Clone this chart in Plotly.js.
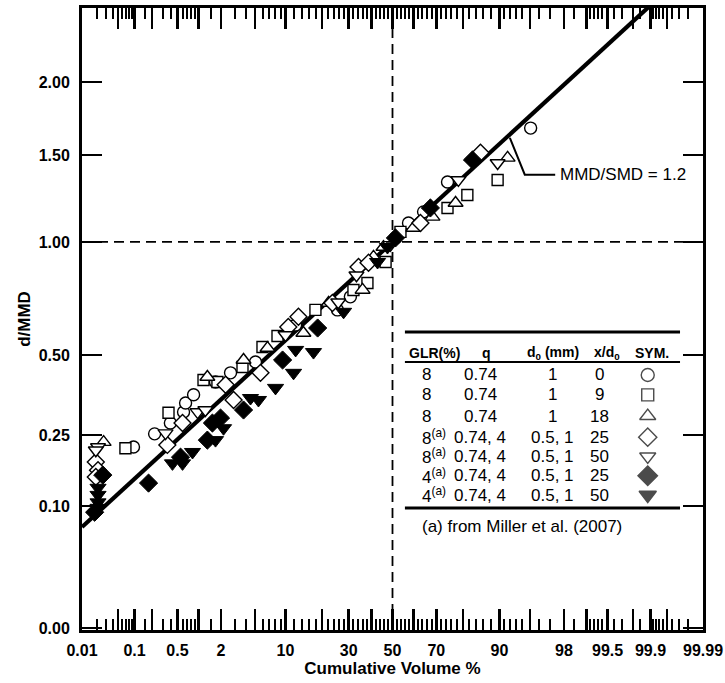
<!DOCTYPE html>
<html><head><meta charset="utf-8">
<script src="https://cdn.plot.ly/plotly-3.0.1.min.js"></script>
<style>body{margin:0;background:#fff}</style>
</head><body><div id="chart" style="width:725px;height:683px"></div>
<script>
// ---------- data (cumulative volume %, d/MMD) ----------
const circleCum = [0.096,0.219,0.39,0.616,0.66,0.86,1.70,2.62,5.04,12.3,25.5,30.7,51.4,57.6,64.5,74.5,95.1];
const circleD   = [0.220,0.253,0.282,0.313,0.340,0.365,0.406,0.437,0.475,0.616,0.679,0.736,1.021,1.101,1.162,1.335,1.677];

const squareCum = [0.069,0.365,1.18,1.80,3.62,5.97,8.42,17.8,32.0,38.2,46.7,53.8,74.5,81.5,89.6];
const squareD   = [0.217,0.311,0.413,0.406,0.457,0.530,0.572,0.679,0.767,0.799,0.899,1.053,1.184,1.258,1.347];

const triUpCum = [0.027,1.33,3.72,6.72,14.3,22.2,36.0,41.0,45.7,59.9,68.4,77.5,91.6];
const triUpD   = [0.232,0.423,0.482,0.526,0.584,0.709,0.767,0.924,0.974,1.074,1.134,1.212,1.483];

const diamondCum = [0.019,0.021,0.019,0.35,0.595,2.28,2.85,5.69,10.6,13.0,23.6,34.2,38.7,63.1,85.4];
const diamondD   = [0.185,0.167,0.153,0.225,0.282,0.397,0.349,0.437,0.608,0.650,0.709,0.875,0.895,1.101,1.516];

const triDownCum = [0.021,0.019,0.328,0.98,1.25,10.0,25.8,33.3,49.0,78.5,89.6];
const triDownD   = [0.220,0.212,0.255,0.313,0.319,0.576,0.712,0.835,0.985,1.347,1.451];

const fDiamondCum = [0.026,0.018,0.174,0.556,1.33,1.55,1.97,3.72,9.40,18.5,51.4,67.5,83.1];
const fDiamondD   = [0.157,0.090,0.141,0.196,0.237,0.282,0.296,0.319,0.482,0.604,1.021,1.184,1.470];

const fTriDownCum = [0.021,0.021,0.021,0.021,0.42,0.595,0.83,1.70,2.15,4.45,5.42,8.06,11.8,12.3,17.2,27.9,42.9,47.6];
const fTriDownD   = [0.132,0.119,0.106,0.097,0.182,0.182,0.208,0.237,0.268,0.355,0.349,0.387,0.437,0.519,0.511,0.671,0.899,0.974];

// root-normal fit, MMD/SMD = 1.2
const fitCum = [0.01, 99.99];
const fitD   = [0.0685, 3.02];
const fitLabel = 'MMD/SMD = 1.2';

// axis ticks
const xMajorCum = [0.01,0.05,0.1,0.2,0.5,1,2,5,10,20,30,40,50,60,70,80,90,95,98,99,99.5,99.8,99.9,99.95,99.99];
const xMajorLabels = ['0.01','','0.1','','0.5','','2','','10','','30','','50','','70','','90','','98','','99.5','','99.9','','99.99'];
const xMinorCum = [0.02,0.03,0.04,0.06,0.07,0.08,0.09,0.15,0.3,0.4,0.6,0.7,0.8,0.9,1.5,3,4,6,7,8,9,
  12,14,16,18,22,24,26,28,32,34,36,38,42,44,46,48,52,54,56,58,62,64,66,68,72,74,76,78,82,84,86,88,
  91,92,93,94,96,97,98.5,99.1,99.2,99.3,99.4,99.6,99.7,99.85,99.91,99.92,99.93,99.94,99.96,99.97,99.98];
const yTickValues = [0,0.1,0.25,0.5,1,1.5,2];
const yTickLabels = ['0.00','0.10','0.25','0.50','1.00','1.50','2.00'];
const refCum = 50, refD = 1;

// legend table
const tblGLR = ['8','8','8','8<sup>(a)</sup>','8<sup>(a)</sup>','4<sup>(a)</sup>','4<sup>(a)</sup>'];
const tblQ   = ['0.74','0.74','0.74','0.74, 4','0.74, 4','0.74, 4','0.74, 4'];
const tblD0  = ['1','1','1','0.5, 1','0.5, 1','0.5, 1','0.5, 1'];
const tblXD  = ['0','9','18','25','50','25','50'];
const tblHeader = ['GLR(%)','q','d<sub>0</sub> (mm)','x/d<sub>0</sub>','SYM.'];
const footnote = '(a) from Miller et al. (2007)';

// ---------- scales ----------
function probit(p){
  const a=[-3.969683028665376e+01,2.209460984245205e+02,-2.759285104469687e+02,1.383577518672690e+02,-3.066479806614716e+01,2.506628277459239e+00];
  const b=[-5.447609879822406e+01,1.615858368580409e+02,-1.556989798598866e+02,6.680131188771972e+01,-1.328068155288572e+01];
  const c=[-7.784894002430293e-03,-3.223964580411365e-01,-2.400758277161838e+00,-2.549732539343734e+00,4.374664141464968e+00,2.938163982698783e+00];
  const d=[7.784695709041462e-03,3.224671290700398e-01,2.445134137142996e+00,3.754408661907416e+00];
  const pl=0.02425, ph=1-pl; let q,r;
  if(p<pl){q=Math.sqrt(-2*Math.log(p));return (((((c[0]*q+c[1])*q+c[2])*q+c[3])*q+c[4])*q+c[5])/((((d[0]*q+d[1])*q+d[2])*q+d[3])*q+1);}
  if(p<=ph){q=p-0.5;r=q*q;return (((((a[0]*r+a[1])*r+a[2])*r+a[3])*r+a[4])*r+a[5])*q/(((((b[0]*r+b[1])*r+b[2])*r+b[3])*r+b[4])*r+1);}
  q=Math.sqrt(-2*Math.log(1-p));return -(((((c[0]*q+c[1])*q+c[2])*q+c[3])*q+c[4])*q+c[5])/((((d[0]*q+d[1])*q+d[2])*q+d[3])*q+1);
}
const X = v => probit(v/100);
const Y = v => Math.sqrt(v);

// ---------- traces ----------
const OPEN = {color:'white', line:{color:'black', width:1.4}};
function series(cum, dv, symbol, size, filled){
  return {x:cum.map(X), y:dv.map(Y), type:'scatter', mode:'markers', cliponaxis:true, hoverinfo:'skip',
    marker: filled ? {symbol, size, color:'black', line:{color:'black',width:1}}
                   : Object.assign({symbol, size}, OPEN)};
}
const traces = [
  {x:fitCum.map(X), y:fitD.map(Y), type:'scatter', mode:'lines', line:{color:'black', width:4.2}, hoverinfo:'skip'},
  series(circleCum, circleD, 'circle', 12, false),
  series(squareCum, squareD, 'square', 11, false),
  series(triUpCum, triUpD, 'triangle-up', 13, false),
  series(diamondCum, diamondD, 'diamond', 13, false),
  series(triDownCum, triDownD, 'triangle-down', 13, false),
  series(fDiamondCum, fDiamondD, 'diamond', 14, true),
  series(fTriDownCum, fTriDownD, 'triangle-down', 14, true)
];

// legend-table layout (fractions of the plot area)
const rowY = [0.410,0.378,0.344,0.310,0.279,0.248,0.217];
const symList = ['circle','square','triangle-up','diamond','triangle-down','diamond','triangle-down'];
const symFill = ['white','white','white','white','white','black','black'];
traces.push({x:rowY.map(()=>0.911), y:rowY, xaxis:'x2', yaxis:'y2', type:'scatter', mode:'markers', hoverinfo:'skip',
  marker:{symbol:symList, size:[13,12,14,14,14,15,15], color:symFill, line:{color:'black', width:1.4}}});

const annotations = [];
const colX = [0.544,0.641,0.757,0.834];
function txt(x, y, text, xanchor, font){
  return {xref:'paper', yref:'paper', x, y, text, showarrow:false, xanchor, yanchor:'middle', font};
}
rowY.forEach((yy,i)=>{
  annotations.push(txt(colX[0], yy, tblGLR[i], 'left', {size:17}));
  annotations.push(txt(colX[1], yy, tblQ[i], 'center', {size:17}));
  annotations.push(txt(colX[2], yy, tblD0[i], 'center', {size:17}));
  annotations.push(txt(colX[3], yy, tblXD[i], 'center', {size:17}));
});
const headX = [0.568,0.652,0.758,0.845,0.918];
tblHeader.forEach((t,i)=>annotations.push(txt(headX[i], 0.445, t, 'center', {size:14, weight:'bold'})));
annotations.push(txt(0.544, 0.166, footnote, 'left', {size:17}));
annotations.push(txt(0.767, 0.732, fitLabel, 'left', {size:17}));

const shapes = [
  {type:'line', xref:'x', yref:'paper', x0:X(refCum), x1:X(refCum), y0:0, y1:1, line:{color:'black', width:1.8, dash:'10px,6px'}},
  {type:'line', xref:'paper', yref:'y', x0:0, x1:1, y0:Y(refD), y1:Y(refD), line:{color:'black', width:1.8, dash:'10px,6px'}},
  {type:'line', xref:'paper', yref:'paper', x0:0.520, x1:0.963, y0:0.479, y1:0.479, line:{color:'black', width:3}},
  {type:'line', xref:'paper', yref:'paper', x0:0.520, x1:0.963, y0:0.431, y1:0.431, line:{color:'black', width:2}},
  {type:'line', xref:'paper', yref:'paper', x0:0.520, x1:0.963, y0:0.196, y1:0.196, line:{color:'black', width:3}},
  {type:'path', xref:'paper', yref:'paper', path:'M 0.689 0.791 L 0.713 0.732 L 0.762 0.732', line:{color:'black', width:2}}
];

const layout = {
  width:725, height:683,
  margin:{l:82, r:22, t:8, b:53},
  paper_bgcolor:'white', plot_bgcolor:'white',
  font:{family:'Liberation Sans, Arial, sans-serif', color:'black', size:16},
  showlegend:false,
  xaxis:{range:[X(0.01), X(99.99)], tickmode:'array', tickvals:xMajorCum.map(X), ticktext:xMajorLabels,
    ticks:'inside', ticklen:21, tickwidth:2.5, tickcolor:'black', showline:true, linewidth:3, linecolor:'black',
    mirror:'ticks', showgrid:false, zeroline:false, fixedrange:true, ticklabelstandoff:4,
    tickfont:{size:16, weight:'bold'},
    title:{text:'Cumulative Volume %', font:{size:17, weight:'bold'}, standoff:4},
    minor:{tickmode:'array', tickvals:xMinorCum.map(X), ticks:'inside', ticklen:11, tickwidth:2, tickcolor:'black', showgrid:false}},
  yaxis:{range:[-0.005, 1.606], tickmode:'array', tickvals:yTickValues.map(Y), ticktext:yTickLabels,
    ticks:'inside', ticklen:20, tickwidth:2.5, tickcolor:'black', showline:true, linewidth:3, linecolor:'black',
    mirror:'ticks', showgrid:false, zeroline:false, fixedrange:true, ticklabelstandoff:6,
    tickfont:{size:16, weight:'bold'},
    title:{text:'d/MMD', font:{size:17, weight:'bold'}, standoff:4}},
  xaxis2:{overlaying:'x', range:[0,1], visible:false, fixedrange:true},
  yaxis2:{overlaying:'y', range:[0,1], visible:false, fixedrange:true},
  annotations, shapes
};
Plotly.newPlot('chart', traces, layout, {staticPlot:true, displayModeBar:false});
</script></body></html>
